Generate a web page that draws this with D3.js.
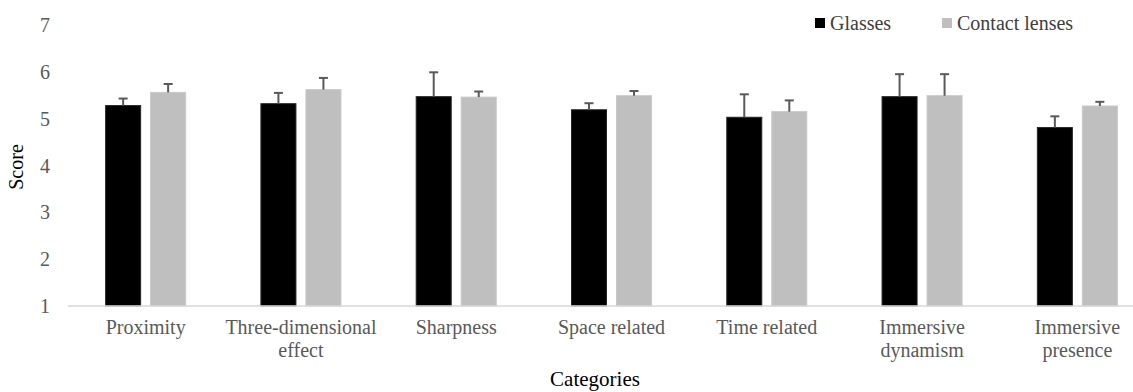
<!DOCTYPE html>
<html>
<head>
<meta charset="utf-8">
<script src="https://cdn.jsdelivr.net/npm/d3@7"></script>
<style>
  body { margin: 0; background: #fff; }
</style>
</head>
<body>
<div id="chart"></div>
<script>
// categories and tick labels
const categories = ["Proximity", "Three-dimensional effect", "Sharpness", "Space related",
                    "Time related", "Immersive dynamism", "Immersive presence"];
const categoryLines = [["Proximity"], ["Three-dimensional", "effect"], ["Sharpness"], ["Space related"],
                       ["Time related"], ["Immersive", "dynamism"], ["Immersive", "presence"]];
const yTicks = [1, 2, 3, 4, 5, 6, 7];

// series
const seriesNames = ["Glasses", "Contact lenses"];
const glasses = [5.28, 5.32, 5.47, 5.19, 5.03, 5.47, 4.81];
const glassesErr = [0.15, 0.23, 0.52, 0.14, 0.49, 0.48, 0.24];
const lenses = [5.56, 5.62, 5.46, 5.49, 5.15, 5.49, 5.27];
const lensesErr = [0.18, 0.25, 0.12, 0.10, 0.24, 0.46, 0.09];

const W = 1133, H = 392;
const colors = { "Glasses": "#000000", "Contact lenses": "#bfbfbf" };
const serif = "'Liberation Serif', Tinos, 'Times New Roman', 'DejaVu Serif', serif";

const svg = d3.select("#chart").append("svg")
    .attr("width", W)
    .attr("height", H)
    .attr("font-family", serif)
    .style("font-family", serif);

// plot runs past the right edge, as in the cropped original
const x0 = d3.scaleBand().domain(categories).range([68, 1155]);
const x1 = d3.scaleBand().domain(seriesNames)
    .range([0, x0.bandwidth()])
    .paddingInner(0.222)
    .paddingOuter(0.836);
const y = d3.scaleLinear().domain([1, 7]).range([306, 25]);

// y tick labels (no axis line in the original)
svg.append("g").selectAll("text")
    .data(yTicks)
    .enter().append("text")
    .attr("x", 50)
    .attr("y", d => y(d))
    .attr("dy", "0.35em")
    .attr("text-anchor", "end")
    .attr("font-size", 20)
    .attr("fill", "#595959")
    .text(d => d);

// rows of bar data
const rows = categories.map((c, i) => ({
    cat: c,
    vals: [
        { s: "Glasses", v: glasses[i], e: glassesErr[i] },
        { s: "Contact lenses", v: lenses[i], e: lensesErr[i] }
    ]
}));

const groups = svg.append("g").selectAll(".grp")
    .data(rows)
    .enter().append("g")
    .attr("class", "grp")
    .attr("transform", d => `translate(${x0(d.cat)},0)`);

groups.selectAll("rect")
    .data(d => d.vals)
    .enter().append("rect")
    .attr("x", d => x1(d.s))
    .attr("y", d => y(d.v))
    .attr("width", x1.bandwidth())
    .attr("height", d => y(1) - y(d.v))
    .attr("fill", d => colors[d.s])
    .attr("stroke", d => d.s === "Glasses" ? "#262626" : "#c8c8c8")
    .attr("stroke-width", 1);

// error bars (upper only)
const errs = groups.selectAll(".err")
    .data(d => d.vals)
    .enter().append("g")
    .attr("class", "err")
    .attr("stroke", "#595959")
    .attr("stroke-width", 2);

errs.append("line")
    .attr("x1", d => x1(d.s) + x1.bandwidth() / 2)
    .attr("x2", d => x1(d.s) + x1.bandwidth() / 2)
    .attr("y1", d => y(d.v))
    .attr("y2", d => y(d.v + d.e));

errs.append("line")
    .attr("x1", d => x1(d.s) + x1.bandwidth() / 2 - 4.5)
    .attr("x2", d => x1(d.s) + x1.bandwidth() / 2 + 4.5)
    .attr("y1", d => y(d.v + d.e))
    .attr("y2", d => y(d.v + d.e));

// baseline
svg.append("line")
    .attr("x1", 68).attr("x2", W)
    .attr("y1", y(1)).attr("y2", y(1))
    .attr("stroke", "#d9d9d9")
    .attr("stroke-width", 1.5);

// category labels
const labels = svg.append("g").selectAll("text")
    .data(categories)
    .enter().append("text")
    .attr("x", d => x0(d) + x0.bandwidth() / 2)
    .attr("y", 334)
    .attr("text-anchor", "middle")
    .attr("font-size", 20)
    .attr("fill", "#595959");

labels.selectAll("tspan")
    .data((d, i) => categoryLines[i])
    .enter().append("tspan")
    .attr("x", function () { return d3.select(this.parentNode).attr("x"); })
    .attr("dy", (d, i) => i === 0 ? 0 : 23)
    .text(d => d);

// axis titles
svg.append("text")
    .attr("transform", "translate(23,167) rotate(-90)")
    .attr("text-anchor", "middle")
    .attr("font-size", 20)
    .attr("fill", "#000")
    .text("Score");

svg.append("text")
    .attr("x", 595)
    .attr("y", 386)
    .attr("text-anchor", "middle")
    .attr("font-size", 21)
    .attr("fill", "#000")
    .text("Categories");

// legend
const legend = svg.append("g").selectAll("g")
    .data(seriesNames)
    .enter().append("g")
    .attr("transform", (d, i) => `translate(${[815, 942][i]},18)`);

legend.append("rect")
    .attr("width", 10).attr("height", 10)
    .attr("fill", d => colors[d]);

legend.append("text")
    .attr("x", 15)
    .attr("y", 5)
    .attr("dy", "0.35em")
    .attr("font-size", 20)
    .attr("fill", "#404040")
    .text(d => d);
</script>
</body>
</html>
